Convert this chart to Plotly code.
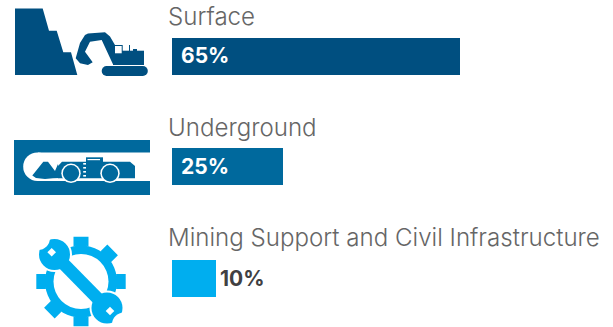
import math
import plotly.graph_objects as go

W, H = 613, 327

categories = ["Surface", "Underground", "Mining Support and Civil Infrastructure"]
shares = [65, 25, 10]
bar_colors = ["#004F80", "#00699D", "#00AEEF"]
text_gray = "#666666"
value_dark = "#414042"

# Each row gets its own y axis so the bands sit exactly where they should.
row_bands = [(38, 75), (148, 185), (260, 297)]
row_titles_y = [17, 127, 237]
title_x = [166, 165.5, 165.5]

PX_PER_PCT = 4.43
X0 = 172


def px(x):
    return x / W


def py(y):
    return 1 - y / H


def path(points, close=True):
    d = "M" + "L".join(f"{px(x):.5f},{py(y):.5f}" for x, y in points)
    return d + ("Z" if close else "")


def poly(points, color, **kw):
    return dict(type="path", xref="paper", yref="paper", path=path(points),
                fillcolor=color, line=dict(width=0), layer="above", **kw)


def rect(x0, y0, x1, y1, color):
    return dict(type="rect", xref="paper", yref="paper", x0=px(x0), x1=px(x1),
                y0=py(y0), y1=py(y1), fillcolor=color, line=dict(width=0), layer="above")


def circle(cx, cy, r, color):
    return dict(type="circle", xref="paper", yref="paper", x0=px(cx - r), x1=px(cx + r),
                y0=py(cy - r), y1=py(cy + r), fillcolor=color, line=dict(width=0), layer="above")


def stroke(x0, y0, x1, y1, color, width):
    return dict(type="line", xref="paper", yref="paper", x0=px(x0), x1=px(x1),
                y0=py(y0), y1=py(y1), line=dict(color=color, width=width), layer="above")


def excavator_icon(c):
    s = []
    # stepped rock face
    s.append(poly([(15, 8.5), (42.7, 8.5), (49, 30.7), (56.7, 30.7), (63.3, 52.3),
                   (71, 52.3), (77.3, 75), (15, 75)], c))
    # boom, arm and bucket
    s.append(poly([(75.7, 58.3), (80, 43), (85, 35), (88, 33.5), (105, 32.3), (110, 36.5),
                   (115, 45), (122.7, 45), (122.7, 52), (113.3, 65), (101.7, 40),
                   (90, 41.7), (85, 51.7), (92.7, 62.3), (88, 65), (80, 63.3)], c))
    s.append(rect(113, 50.7, 144, 65, c))
    s.append(rect(115, 46, 121.7, 53.3, "white"))
    s.append(rect(129, 45, 130, 51, c))
    s.append(rect(133, 49, 137, 51, c))
    # crawler track
    s.append(rect(106, 66, 143, 76, c))
    s.append(circle(106.7, 71, 5, c))
    s.append(circle(142.8, 71, 5, c))
    return s


def loader_icon(c):
    s = [rect(14, 140, 150, 195, c)]
    # tunnel opening
    s.append(rect(38, 152.5, 150, 181, "white"))
    s.append(circle(37.5, 166.7, 14.3, "white"))
    # bucket
    s.append(poly([(32.3, 175.5), (43.3, 161.7), (48, 161.7), (55, 171), (58, 164),
                   (60, 178), (53, 178.3), (45, 179), (36, 178)], c))
    # chassis and cab
    s.append(poly([(58, 178.3), (58, 166), (62, 161.7), (130, 161.7), (135, 166),
                   (135, 178.3)], c))
    s.append(rect(86, 157.3, 103, 162, c))
    s.append(rect(87.5, 159, 100, 160.2, "white"))
    for y in (163, 167, 171, 175):
        s.append(rect(83.2, y, 86, y + 1.6, "white"))
    # wheels with a white rim, sitting over the chassis floor
    for cx in (71, 110):
        s.append(circle(cx, 173.3, 9.7, "white"))
        s.append(circle(cx, 173.3, 8.2, c))
    return s


def gear_points(cx, cy, r_root, r_tip, teeth, half_width):
    pts = []
    for i in range(teeth):
        a = 2 * math.pi * i / teeth
        ux, uy = math.cos(a), math.sin(a)
        nx, ny = -uy, ux
        root = math.sqrt(max(r_root ** 2 - half_width ** 2, 0))
        for along, side in ((root, -half_width), (r_tip, -half_width),
                            (r_tip, half_width), (root, half_width)):
            pts.append((cx + ux * along + nx * side, cy + uy * along + ny * side))
        for k in range(1, 6):
            b = a + (2 * math.pi / teeth) * k / 6
            pts.append((cx + r_root * math.cos(b), cy + r_root * math.sin(b)))
    return pts


def diamond(cx, cy, r, color):
    return poly([(cx, cy - r), (cx + r, cy), (cx, cy + r), (cx - r, cy)], color)


def spanner_icon(c):
    cx, cy = 81, 281.5
    s = [poly(gear_points(cx, cy, 36, 44.7, 8, 7.5), c)]
    s.append(circle(cx, cy, 27.5, "white"))

    upper = (54.5, 254.5)
    lower = (107, 308)
    # white halo that separates the spanner from the gear
    s.append(stroke(upper[0], upper[1], lower[0], lower[1], "white", 16))
    s.append(circle(upper[0], upper[1], 17.5, "white"))
    s.append(circle(lower[0], lower[1], 17.5, "white"))
    s.append(stroke(upper[0], upper[1], lower[0], lower[1], c, 12.5))
    s.append(circle(upper[0], upper[1], 15.5, c))
    s.append(circle(lower[0], lower[1], 15.5, c))
    # concave jaws and square sockets on both heads
    s.append(circle(38, 238, 12, "white"))
    s.append(circle(124, 324.5, 12, "white"))
    s.append(diamond(51.7, 252.2, 4.3, "white"))
    s.append(diamond(110, 311, 4.3, "white"))
    return s


fig = go.Figure()
axis_names = ["y", "y2", "y3"]
layout_axes = {}
for i, (name, value, color) in enumerate(zip(categories, shares, bar_colors)):
    fig.add_trace(go.Bar(
        x=[value], y=[name], orientation="h", width=1,
        marker=dict(color=color, line=dict(width=0)),
        yaxis=axis_names[i], xaxis="x", hoverinfo="skip", showlegend=False,
    ))
    top, bottom = row_bands[i]
    layout_axes["yaxis" if i == 0 else f"yaxis{i + 1}"] = dict(
        domain=[py(bottom), py(top)], type="category", visible=False,
        range=[-0.5, 0.5], fixedrange=True, anchor="x",
    )

annotations = []
for i, (name, value) in enumerate(zip(categories, shares)):
    annotations.append(dict(
        text=name, xref="paper", yref="paper", x=px(title_x[i]), y=py(row_titles_y[i]),
        xanchor="left", yanchor="middle", showarrow=False,
        font=dict(family="Inter", size=24.1, color=text_gray, weight=300),
    ))
    inside = value >= 20
    annotations.append(dict(
        text=f"{value}%", xref="x", yref="paper",
        x=0 if inside else value, y=py(sum(row_bands[i]) / 2 - 0.5),
        xanchor="left", yanchor="middle", showarrow=False,
        xshift=7 if inside else 2,
        font=dict(family="Inter", size=21, weight=700,
                  color="white" if inside else value_dark),
    ))

shapes = excavator_icon(bar_colors[0]) + loader_icon(bar_colors[1]) + spanner_icon(bar_colors[2])

fig.update_layout(
    width=W, height=H, margin=dict(l=0, r=0, t=0, b=0),
    paper_bgcolor="white", plot_bgcolor="white", bargap=0,
    xaxis=dict(domain=[0, 1], range=[-X0 / PX_PER_PCT, (W - X0) / PX_PER_PCT],
               visible=False, fixedrange=True),
    annotations=annotations, shapes=shapes, **layout_axes,
)
fig.write_html("out.html", config={"displayModeBar": False})
